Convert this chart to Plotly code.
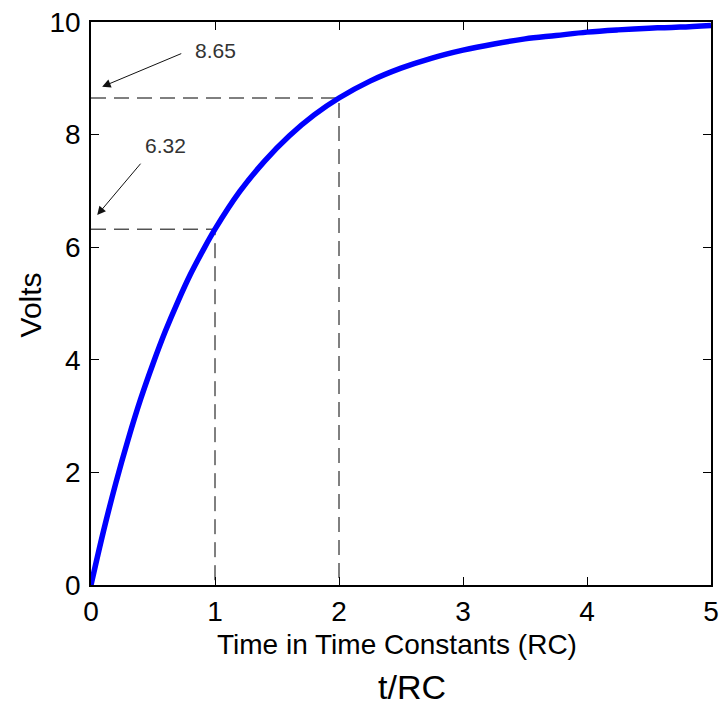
import plotly.graph_objects as go

# Values
t_vals = [0, 0.1, 0.2, 0.3, 0.4, 0.5, 0.6, 0.7, 0.8, 0.9, 1.0, 1.2, 1.4, 1.6, 1.8, 2.0,
          2.25, 2.5, 2.75, 3.0, 3.25, 3.5, 3.75, 4.0, 4.25, 4.5, 4.75, 5.0]
volts = [0, 0.95, 1.81, 2.59, 3.30, 3.93, 4.51, 5.03, 5.51, 5.93, 6.32, 6.99, 7.53, 7.98,
         8.35, 8.65, 8.95, 9.18, 9.36, 9.50, 9.61, 9.70, 9.76, 9.82, 9.86, 9.89, 9.91, 9.94]

mark_t = [1, 2]
mark_v = [6.32, 8.65]
mark_labels = ["6.32", "8.65"]

x_ticks = [0, 1, 2, 3, 4, 5]
y_ticks = [0, 2, 4, 6, 8, 10]

x_title = "Time in Time Constants (RC)"
y_title = "Volts"
sub_title = "t/RC"

FONT = "Liberation Sans, Arial, Helvetica, sans-serif"

fig = go.Figure()

# dashed guide lines
for mt, mv in zip(mark_t, mark_v):
    fig.add_trace(go.Scatter(x=[0, mt, mt], y=[mv, mv, 0], mode="lines",
                             line=dict(color="black", width=1, dash="15px,8px"),
                             hoverinfo="skip", showlegend=False))

fig.add_trace(go.Scatter(x=t_vals, y=volts, mode="lines", line_shape="spline",
                         line=dict(color="#0000FF", width=5.5), showlegend=False))

# arrow annotations
arrow_specs = {
    "8.65": dict(tail=(0.74, 9.45), head=(0.09, 8.85), text=(1.0, 9.50)),
    "6.32": dict(tail=(0.41, 7.51), head=(0.05, 6.57), text=(0.60, 7.81)),
}
for lab in mark_labels:
    s = arrow_specs[lab]
    fig.add_annotation(x=s["head"][0], y=s["head"][1], ax=s["tail"][0], ay=s["tail"][1],
                       xref="x", yref="y", axref="x", ayref="y", text="",
                       showarrow=True, arrowhead=2, arrowsize=1.7, arrowwidth=1,
                       arrowcolor="#111111")
    fig.add_annotation(x=s["text"][0], y=s["text"][1], xref="x", yref="y", text=lab,
                       showarrow=False, font=dict(family=FONT, size=21, color="#333333"))

fig.add_annotation(x=0.494, y=-0.106, xref="paper", yref="paper", text=x_title,
                   showarrow=False, yanchor="middle", xanchor="center",
                   font=dict(family=FONT, size=28, color="black"))
fig.add_annotation(x=0.517, y=-0.182, xref="paper", yref="paper", text=sub_title,
                   showarrow=False, yanchor="middle", xanchor="center",
                   font=dict(family=FONT, size=34, color="black"))
fig.add_annotation(x=-0.098, y=0.497, xref="paper", yref="paper", text=y_title,
                   showarrow=False, yanchor="middle", xanchor="center", textangle=-90,
                   font=dict(family=FONT, size=30, color="black"))

axis_common = dict(showline=True, mirror="ticks", linecolor="black", linewidth=1.5,
                   ticks="inside", ticklen=8, tickwidth=1, tickcolor="black",
                   showgrid=False, zeroline=False, ticklabeloverflow="allow",
                   automargin=False,
                   tickfont=dict(family=FONT, size=28, color="black"))

fig.update_xaxes(range=[0, 5], tickvals=x_ticks, ticklabelstandoff=1, **axis_common)
fig.update_yaxes(range=[0, 10], tickvals=y_ticks, ticklabelstandoff=3, **axis_common)

# page has an 8px body margin, so the figure is 720x700 placed at (8, 8)
fig.update_layout(width=720, height=700, margin=dict(l=83, r=17, t=14, b=123),
                  plot_bgcolor="white", paper_bgcolor="white")

fig.write_html("out.html")
